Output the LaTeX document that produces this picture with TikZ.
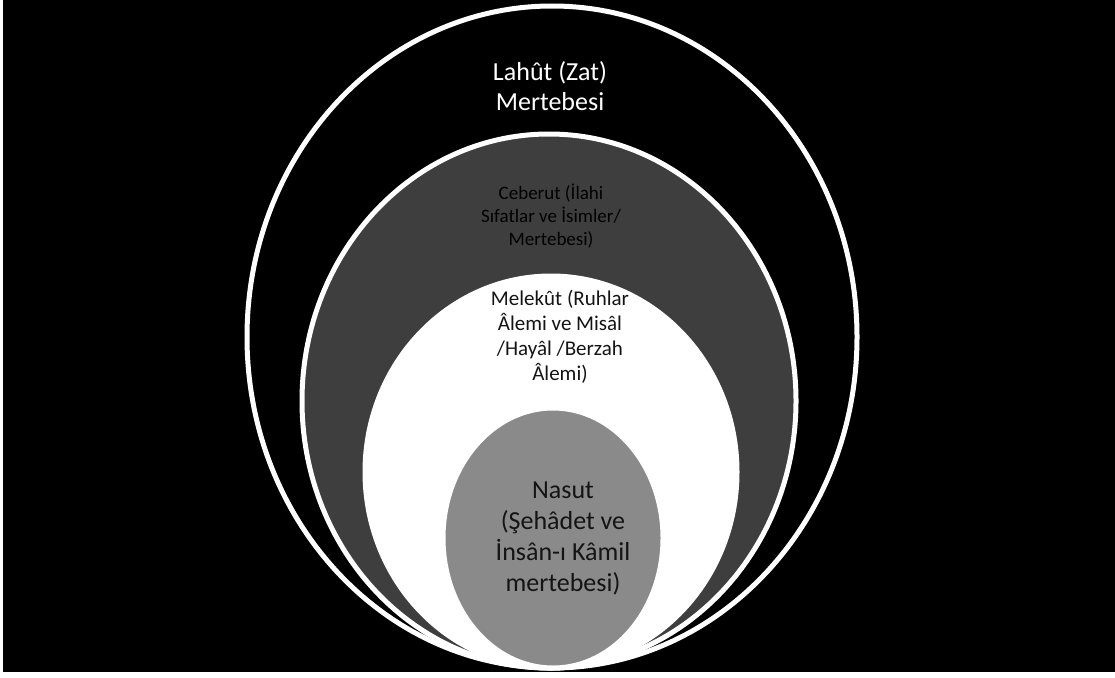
\documentclass[tikz,border=0pt]{standalone}
\usepackage{fontspec}
\setmainfont{Carlito}
\usetikzlibrary{shapes.geometric}
\definecolor{cebgray}{HTML}{3E3E3E}
\definecolor{nasgray}{HTML}{8A8A8A}
\definecolor{darktext}{HTML}{141414}
\begin{document}
\begin{tikzpicture}[x=1pt,y=-1pt,
  ring/.style={ellipse, draw=white, line width=5pt, inner sep=0pt, outer sep=0pt},
  lbl/.style={align=center, inner sep=0pt}]
\useasboundingbox (0,0) rectangle (1115,677);
\fill[white] (0,0) rectangle (1115,677);
\fill[black] (3,0) rectangle (1115,672);
\node[ring, fill=black, minimum width=610pt, minimum height=662pt] (lahut) at (552,337) {};
\node[ring, fill=cebgray, minimum width=494pt, minimum height=534pt] (ceberut) at (549,401) {};
\node[ring, fill=white, minimum width=372pt, minimum height=392pt] (melekut) at (551,472) {};
\node[ring, fill=nasgray, minimum width=220pt, minimum height=260pt] (nasut) at (553,538) {};
\node[lbl, text=white, font=\fontsize{26}{30}\selectfont] (tlahut) at (550,86) {Lahût (Zat)\\Mertebesi};
\node[lbl, text=black, font=\fontsize{19}{23}\selectfont] (tceberut) at (551,216) {Ceberut (İlahi\\Sıfatlar ve İsimler/\\Mertebesi)};
\node[lbl, text=darktext, font=\fontsize{21}{25}\selectfont] (tmelekut) at (560,337) {Melekût (Ruhlar\\Âlemi ve Misâl\\/Hayâl /Berzah\\Âlemi)};
\node[lbl, text=darktext, font=\fontsize{26}{31}\selectfont] (tnasut) at (563,538) {Nasut\\(Şehâdet ve\\İnsân-ı Kâmil\\mertebesi)};
\end{tikzpicture}
\end{document}
